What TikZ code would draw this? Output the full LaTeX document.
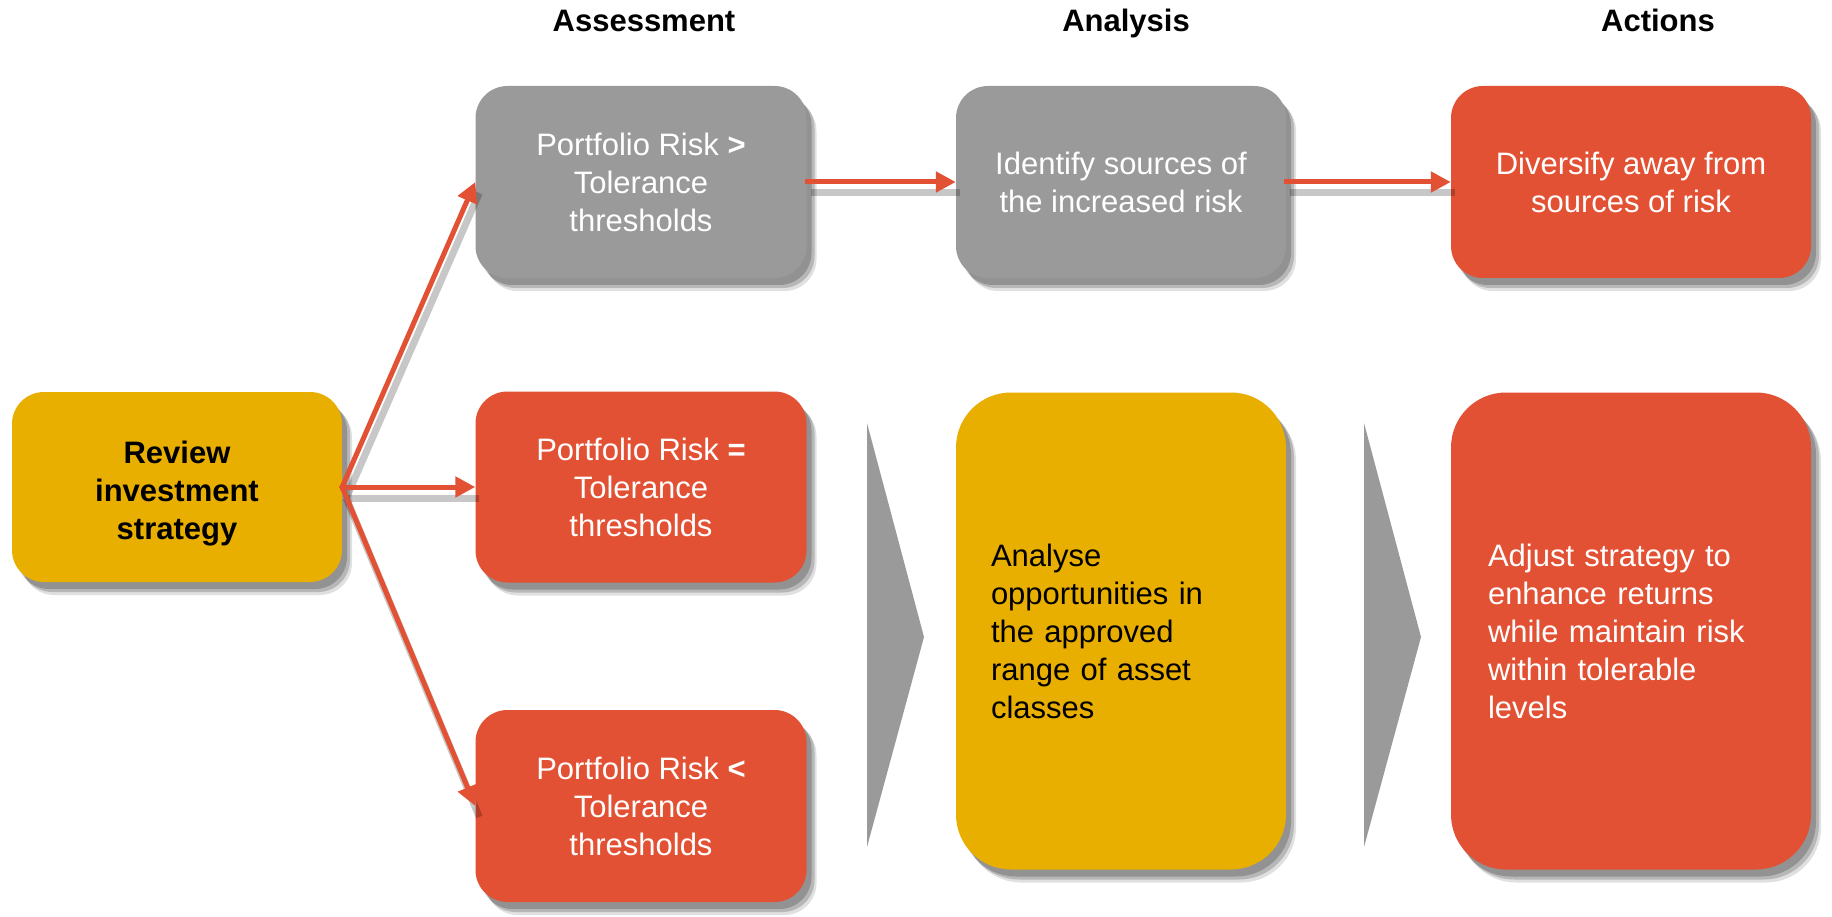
\documentclass[tikz,border=0pt]{standalone}
\usepackage{fontspec}
\setmainfont{Liberation Sans}
\usetikzlibrary{arrows.meta,shadows}
\definecolor{cred}{HTML}{E35134}
\definecolor{cyel}{HTML}{E9AF00}
\definecolor{cgray}{HTML}{9A9A9A}
\begin{document}
\begin{tikzpicture}[x=1pt,y=-1pt,
  shad/.style={drop shadow={shadow xshift=10pt,shadow yshift=-13pt,opacity=.12,fill=black},
               drop shadow={shadow xshift=8pt,shadow yshift=-10pt,opacity=.18,fill=black},
               drop shadow={shadow xshift=5pt,shadow yshift=-7pt,opacity=.2,fill=black}},
  box/.style={shad,rounded corners=32pt,inner sep=0pt,align=center,
              font=\fontsize{31}{38}\selectfont,text=white},
  tallbox/.style={shad,rounded corners=55pt,inner sep=0pt,align=left,
              font=\fontsize{31}{38}\selectfont},
  title/.style={font=\fontsize{31}{38}\selectfont\bfseries,anchor=base},
  arr/.style={draw=cred,line width=5pt,-{Triangle[length=20pt,width=20pt]},shorten <=-2pt},
  arrshadow/.style={draw=black,opacity=.22,line width=7pt,transform canvas={shift={(4pt,-11pt)}}},
  chev/.style={fill=cgray,draw=none}
]
\useasboundingbox (0,0) rectangle (1832,917);
\fill[white] (0,0) rectangle (1832,917);

% titles
\node[title] (t1) at (644,32) {Assessment};
\node[title] (t2) at (1126,32) {Analysis};
\node[title] (t3) at (1658,32) {Actions};

% chevrons
\fill[chev] (867,423) -- (924,637) -- (867,847) -- cycle;
\fill[chev] (1364,423) -- (1421,637) -- (1364,847) -- cycle;

% nodes
\node[box,fill=cyel,text=black,font=\fontsize{31}{38}\selectfont\bfseries,
      minimum width=330pt,minimum height=190pt] (rev) at (177,487) {\rule{0pt}{36pt}Review\\investment\\strategy};
\node[box,fill=cgray,minimum width=331pt,minimum height=192pt] (a1) at (641,182)
  {Portfolio Risk \textbf{>}\\Tolerance\\thresholds};
\node[box,fill=cred,minimum width=331pt,minimum height=191pt] (a2) at (641,487)
  {Portfolio Risk \textbf{=}\\Tolerance\\thresholds};
\node[box,fill=cred,minimum width=331pt,minimum height=192pt] (a3) at (641,806)
  {Portfolio Risk \textbf{<}\\Tolerance\\thresholds};
\node[box,fill=cgray,minimum width=330pt,minimum height=192pt] (b1) at (1121,182)
  {Identify sources of\\the increased risk};
\node[box,fill=cred,minimum width=360pt,minimum height=192pt] (c1) at (1631,182)
  {Diversify away from\\sources of risk};
\node[tallbox,fill=cyel,text=black,minimum width=330pt,minimum height=477pt,text width=260pt] (b2) at (1121,631)
  {Analyse\\opportunities in\\the approved\\range of asset\\classes};
\node[tallbox,fill=cred,text=white,minimum width=360pt,minimum height=477pt,text width=286pt] (c2) at (1631,631)
  {Adjust strategy to\\enhance returns\\while maintain risk\\within tolerable\\levels};

% arrow shadows
\draw[arrshadow] (rev.east) -- (a1.west);
\draw[arrshadow] (rev.east) -- (a2.west);
\draw[arrshadow] (rev.east) -- (a3.west);
\draw[arrshadow] (a1.east) -- (b1.west);
\draw[arrshadow] (b1.east) -- (c1.west);

% arrows
\draw[arr] (rev.east) -- (a1.west);
\draw[arr] (rev.east) -- (a2.west);
\draw[arr] (rev.east) -- (a3.west);
\draw[arr] (a1.east) -- (b1.west);
\draw[arr] (b1.east) -- (c1.west);
\end{tikzpicture}
\end{document}
